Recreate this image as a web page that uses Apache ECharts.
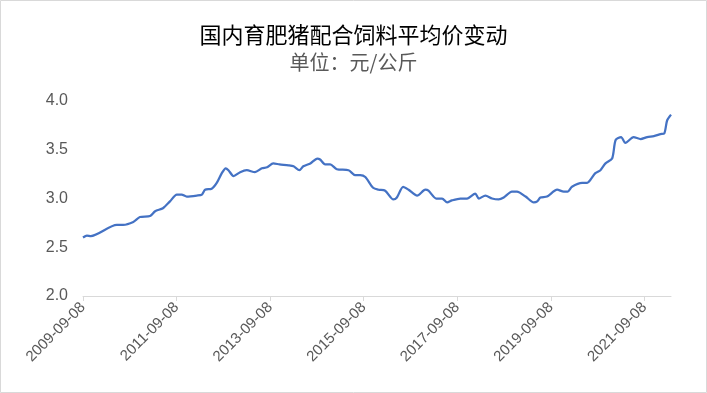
<!DOCTYPE html>
<html>
<head>
<meta charset="utf-8">
<script src="https://cdn.jsdelivr.net/npm/echarts@6/dist/echarts.min.js"></script>
<style>
html,body{margin:0;padding:0;background:#fff;}
#chart{width:707px;height:393px;}
</style>
</head>
<body>
<div id="chart"></div>
<script>
const titleText = '国内育肥猪配合饲料平均价变动';
const subtitleText = '单位：元/公斤';
const tickLabels = ['2009-09-08','2011-09-08','2013-09-08','2015-09-08','2017-09-08','2019-09-08','2021-09-08'];
const yTicks = [2.0, 2.5, 3.0, 3.5, 4.0];
const dates = [
'2009-09-08','2009-10-08','2009-11-08','2010-05-28','2010-07-17','2010-10-05','2010-11-26','2011-02-14','2011-03-23','2011-05-23',
'2011-07-17','2011-09-10','2011-10-17','2011-11-26','2012-02-14','2012-03-23','2012-04-17','2012-06-08','2012-07-17','2012-08-26',
'2012-09-26','2012-10-17','2012-11-26','2013-01-17','2013-03-08','2013-05-11','2013-07-05','2013-08-14','2013-10-02','2013-11-20',
'2014-01-29','2014-03-08','2014-04-23','2014-05-23','2014-07-17','2014-09-11','2014-10-02','2014-11-11','2014-12-20','2015-02-11',
'2015-05-11','2015-07-02','2015-08-11','2015-09-20','2015-11-20','2016-01-02','2016-02-23','2016-04-26','2016-05-23','2016-07-11',
'2016-08-23','2016-10-29','2017-01-02','2017-01-26','2017-03-26','2017-05-11','2017-06-20','2017-07-26','2017-10-02','2017-11-23',
'2018-01-26','2018-02-23','2018-04-14','2018-06-05','2018-07-26','2018-09-05','2018-11-08','2018-12-17','2019-02-23','2019-04-26',
'2019-05-23','2019-06-17','2019-08-08','2019-10-26','2019-12-17','2020-01-17','2020-02-20','2020-05-08','2020-06-17','2020-07-11',
'2020-08-20','2020-09-29','2020-11-08','2020-12-29','2021-01-26','2021-03-08','2021-04-11','2021-06-14','2021-08-08','2021-09-29',
'2021-11-20','2022-01-11','2022-02-11','2022-03-02','2022-04-02'
];
const prices = [
2.60,2.62,2.615,2.73,2.73,2.76,2.81,2.82,2.87,2.90,
2.97,3.04,3.04,3.02,3.03,3.04,3.09,3.10,3.16,3.26,
3.31,3.29,3.23,3.27,3.29,3.27,3.31,3.32,3.36,3.35,
3.34,3.33,3.29,3.33,3.36,3.41,3.40,3.35,3.35,3.30,
3.29,3.24,3.24,3.22,3.11,3.09,3.08,2.99,3.01,3.12,
3.09,3.03,3.09,3.08,3.00,3.00,2.96,2.98,3.00,3.00,
3.05,3.00,3.03,3.00,2.99,3.01,3.07,3.07,3.02,2.96,
2.97,3.01,3.02,3.09,3.07,3.07,3.12,3.16,3.16,3.19,
3.26,3.29,3.36,3.41,3.60,3.63,3.57,3.63,3.61,3.63,
3.64,3.66,3.67,3.80,3.86
];

function monthOffset(s){
  const p = s.split('-').map(Number);
  return (p[0]-2009)*12 + (p[1]-9) + (p[2]-8)/30;
}
const seriesData = dates.map((d,i)=>[monthOffset(d), prices[i]]);
const xMax = seriesData[seriesData.length-1][0];

const chart = echarts.init(document.getElementById('chart'), null, {renderer:'canvas'});
chart.setOption({
  animation:false,
  backgroundColor:'#fff',
  title:[
    {text:titleText,left:'center',top:19,textStyle:{fontFamily:'Noto Sans CJK SC',fontSize:22,fontWeight:'normal',color:'#000'}},
    {text:subtitleText,left:'center',top:47,textStyle:{fontFamily:'Noto Sans CJK SC',fontSize:20,fontWeight:'normal',color:'#595959'}}
  ],
  graphic:[{type:'rect',shape:{x:0.5,y:0.5,width:706,height:392},style:{fill:'none',stroke:'#d9d9d9',lineWidth:1},silent:true}],
  grid:{left:83,right:36,top:101,bottom:97,containLabel:false},
  xAxis:{
    type:'value',min:0,max:xMax,interval:24,
    axisLine:{show:true,lineStyle:{color:'#d9d9d9',width:1}},
    axisTick:{show:true,length:5,lineStyle:{color:'#d9d9d9'}},
    splitLine:{show:false},
    axisLabel:{
      rotate:45,margin:9,color:'#595959',fontSize:15,fontFamily:'Liberation Sans',
      showMaxLabel:false,
      formatter:function(v){const k=v/24; return Math.abs(k-Math.round(k))<1e-6 && tickLabels[Math.round(k)] ? tickLabels[Math.round(k)] : '';}
    }
  },
  yAxis:{
    type:'value',min:yTicks[0],max:yTicks[yTicks.length-1],interval:0.5,
    axisLine:{show:false},axisTick:{show:false},splitLine:{show:false},
    axisLabel:{margin:15,color:'#595959',fontSize:16,fontFamily:'Liberation Sans',formatter:v=>v.toFixed(1)}
  },
  series:[{
    type:'line',data:seriesData,showSymbol:false,smooth:0.25,
    lineStyle:{color:'#4472C4',width:2.25},itemStyle:{color:'#4472C4'}
  }]
});
</script>
</body>
</html>
